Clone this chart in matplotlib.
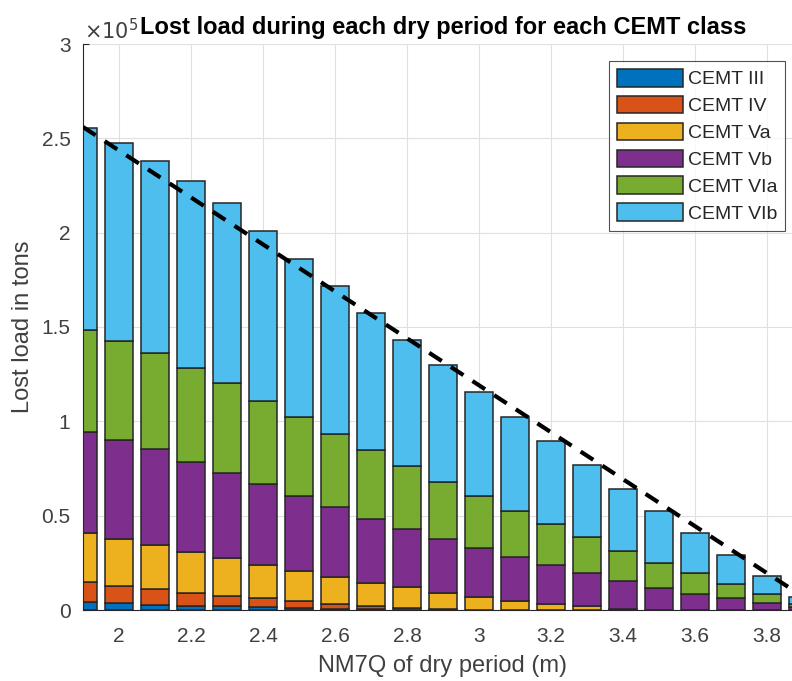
import matplotlib
matplotlib.use("Agg")
import matplotlib.pyplot as plt
import numpy as np

plt.rcParams['font.family'] = ['Liberation Sans', 'DejaVu Sans']

nm7q = [1.9, 2.0, 2.1, 2.2, 2.3, 2.4, 2.5, 2.6, 2.7, 2.8, 2.9,
        3.0, 3.1, 3.2, 3.3, 3.4, 3.5, 3.6, 3.7, 3.8, 3.9]

cemt_iii = [4400, 3700, 2900, 2300, 2100, 1800, 800, 500, 300, 200, 100,
            0, 0, 0, 0, 0, 0, 0, 0, 0, 0]
cemt_iv = [10600, 9000, 8300, 6600, 5400, 4500, 4000, 2900, 1800, 1100, 400,
           200, 100, 0, 0, 0, 0, 0, 0, 0, 0]
cemt_va = [26000, 25100, 23200, 22100, 19800, 17700, 16000, 14000, 12400, 10700, 8300,
           6900, 4500, 3200, 2100, 400, 0, 0, 0, 0, 0]
cemt_vb = [53200, 52300, 50700, 47600, 45100, 42600, 39600, 37100, 33700, 30800, 29000,
           25600, 23300, 20500, 17300, 15000, 11700, 8300, 6200, 3500, 1500]
cemt_via = [54200, 52500, 51300, 49800, 47700, 44300, 42000, 38800, 36600, 33700, 30200,
            27500, 24700, 21900, 19100, 16000, 13400, 11100, 7700, 5000, 1700]
cemt_vib = [106900, 104700, 101500, 99100, 95400, 89900, 83600, 78600, 72400, 66600, 61800,
            55500, 49800, 44000, 38500, 32900, 27400, 21200, 15200, 9500, 3900]

series_names = ["CEMT III", "CEMT IV", "CEMT Va", "CEMT Vb", "CEMT VIa", "CEMT VIb"]
series_vals = [cemt_iii, cemt_iv, cemt_va, cemt_vb, cemt_via, cemt_vib]
colors = ["#0072BD", "#D95319", "#EDB120", "#7E2F8E", "#77AC30", "#4DBEEE"]

trend_x = [1.9, 3.9]
trend_y = [256000, 7100]

yticks = [0, 50000, 100000, 150000, 200000, 250000, 300000]
ytick_labels = ["0", "0.5", "1", "1.5", "2", "2.5", "3"]
xticks = [2.0, 2.2, 2.4, 2.6, 2.8, 3.0, 3.2, 3.4, 3.6, 3.8]
xtick_labels = ["2", "2.2", "2.4", "2.6", "2.8", "3", "3.2", "3.4", "3.6", "3.8"]

fig = plt.figure(figsize=(7.92, 6.81), dpi=100)
ax = fig.add_axes([83/792, 71/681, 720/792, 566/681])

bottom = np.zeros(len(nm7q))
for name, vals, c in zip(series_names, series_vals, colors):
    vals = np.array(vals, dtype=float)
    ax.bar(nm7q, vals, width=0.08, bottom=bottom, color=c, edgecolor="#262626",
           linewidth=1.1, label=name, zorder=2)
    bottom += vals

ax.plot(trend_x, trend_y, color="black", linewidth=3, linestyle=(0, (3.6, 2.6)),
        zorder=3)

ax.set_xlim(1.9, 3.9)
ax.set_ylim(0, 300000)
ax.set_xticks(xticks)
ax.set_xticklabels(xtick_labels)
ax.set_yticks(yticks)
ax.set_yticklabels(ytick_labels)
ax.grid(True, color="#e0e0e0", linewidth=0.8, zorder=0)
ax.set_axisbelow(True)
for s in ["top", "right"]:
    ax.spines[s].set_visible(False)
for s in ["left", "bottom"]:
    ax.spines[s].set_color("#262626")
    ax.spines[s].set_linewidth(0.8)
ax.tick_params(direction="in", length=4, colors="#262626", labelsize=15,
               labelcolor="#404040")
ax.tick_params(axis="x", pad=12)
ax.tick_params(axis="y", pad=9)

ax.set_xlabel("NM7Q of dry period (m)", fontsize=17, color="#404040", labelpad=7)
ax.set_ylabel("Lost load in tons", fontsize=17, color="#404040", labelpad=5)
ax.set_title("Lost load during each dry period for each CEMT class",
             fontsize=17, fontweight="bold", pad=7, color="black")
fig.text(84/792, 1 - 31/681, r"$\times10^5$", fontsize=15, color="#404040",
         ha="left", va="center")

leg = ax.legend(loc="upper right", bbox_to_anchor=(785/792, 1 - 61/681),
                bbox_transform=fig.transFigure, fontsize=14, frameon=True,
                fancybox=False, edgecolor="#262626", handlelength=3.4,
                handleheight=1.03, labelspacing=0.38, borderpad=0.4,
                handletextpad=0.26, borderaxespad=0)
leg.get_frame().set_linewidth(0.8)
for t in leg.get_texts():
    t.set_color("#262626")

fig.savefig("out.png", dpi=100)
